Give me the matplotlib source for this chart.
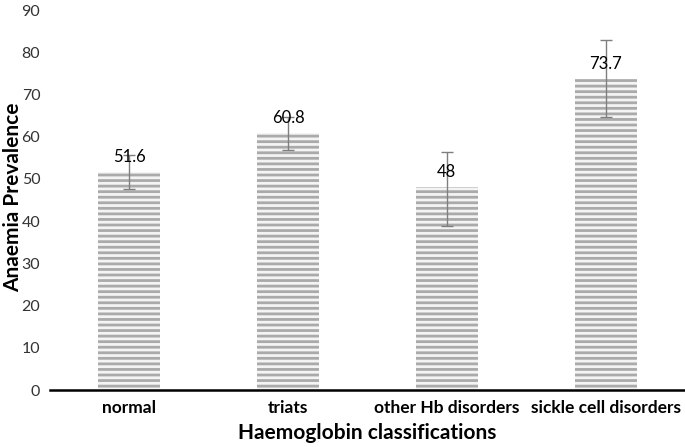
import matplotlib
matplotlib.use("Agg")
import matplotlib.pyplot as plt
import numpy as np

categories = ["normal", "triats", "other Hb disorders", "sickle cell disorders"]
values = [51.6, 60.8, 48, 73.7]
err_low = [4.0, 3.9, 9.1, 9.1]
err_high = [4.0, 3.9, 8.3, 9.1]
value_labels = ["51.6", "60.8", "48", "73.7"]
yticks = [0, 10, 20, 30, 40, 50, 60, 70, 80, 90]

plt.rcParams['font.family'] = ['Lato', 'DejaVu Sans']
plt.rcParams['hatch.linewidth'] = 2.0

fig = plt.figure(figsize=(6.85, 4.47), dpi=100)
ax = fig.add_axes([50/685, 1-390/447, 635/685, 380/447])

x = np.arange(len(categories))
bars = ax.bar(x, values, width=0.39, color='#f4f4f4', edgecolor='#aaaaaa',
              hatch='---', linewidth=0)
ax.errorbar(x, values, yerr=[err_low, err_high], fmt='none', ecolor='#7f7f7f',
            elinewidth=1.0, capsize=4, capthick=1.0)
for xi, v, lab in zip(x, values, value_labels):
    ax.annotate(lab, (xi, v), xytext=(0, 5), textcoords='offset points',
                ha='center', va='bottom', fontsize=12, color='#000000')

ax.set_xlim(-0.5, len(categories) - 0.5)
ax.set_ylim(0, 90)
ax.set_yticks(yticks)
ax.set_yticklabels([str(t) for t in yticks], fontsize=11.5, color='#333333')
ax.set_xticks(x)
ax.set_xticklabels(categories, fontsize=12.5, fontweight='bold')
ax.tick_params(axis='both', length=0)
ax.tick_params(axis='x', pad=7)
ax.tick_params(axis='y', pad=7)
for s in ['top', 'right', 'left']:
    ax.spines[s].set_visible(False)
ax.spines['bottom'].set_linewidth(1.8)
ax.spines['bottom'].set_color('#000000')

ax.set_xlabel("Haemoglobin classifications", fontsize=15, fontweight='bold', labelpad=5)
fig.text(13/685, 1-197/447, "Anaemia Prevalence", fontsize=15, fontweight='bold',
         rotation=90, ha='center', va='center')

fig.savefig("out.png", dpi=100)
